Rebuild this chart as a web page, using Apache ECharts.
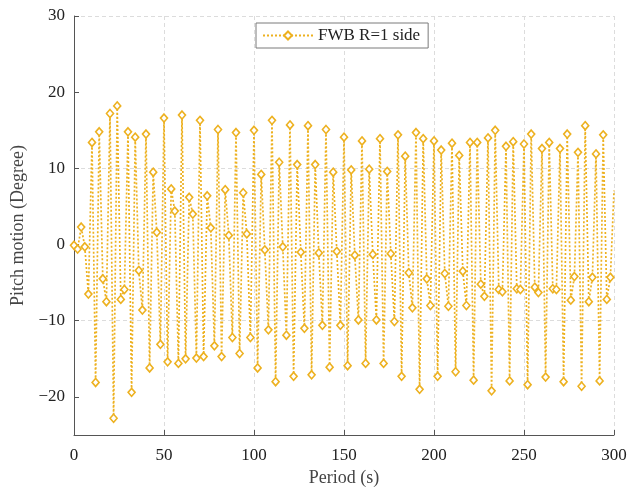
<!DOCTYPE html>
<html>
<head>
<meta charset="utf-8">
<script src="https://cdn.jsdelivr.net/npm/echarts@6/dist/echarts.min.js"></script>
<style>html,body{margin:0;padding:0;background:#fff;}#c{width:644px;height:488px;}</style>
</head>
<body>
<div id="c"></div>
<script>
var seriesName = 'FWB R=1 side';
var periods = [0,2,4,6,8,10,12,14,16,18,20,22,24,26,28,30,32,34,36,38,40,42,44,46,48,50,52,54,56,58,60,62,64,66,68,70,72,74,76,78,80,82,84,86,88,90,92,94,96,98,100,102,104,106,108,110,112,114,116,118,120,122,124,126,128,130,132,134,136,138,140,142,144,146,148,150,152,154,156,158,160,162,164,166,168,170,172,174,176,178,180,182,184,186,188,190,192,194,196,198,200,202,204,206,208,210,212,214,216,218,220,222,224,226,228,230,232,234,236,238,240,242,244,246,248,250,252,254,256,258,260,262,264,266,268,270,272,274,276,278,280,282,284,286,288,290,292,294,296,298,300];
var pitch = [-0.1,-0.6,2.3,-0.3,-6.5,13.4,-18.1,14.8,-4.5,-7.5,
17.2,-22.8,18.2,-7.2,-5.9,14.8,-19.4,14.1,-3.4,-8.6,
14.5,-16.2,9.5,1.6,-13.1,16.6,-15.4,7.3,4.4,-15.6,
17.0,-15.0,6.2,4.0,-14.9,16.3,-14.7,6.4,2.2,-13.3,
15.1,-14.7,7.2,1.2,-12.2,14.7,-14.3,6.8,1.4,-12.2,
15.0,-16.2,9.2,-0.7,-11.2,16.3,-18.0,10.8,-0.3,-11.9,
15.7,-17.3,10.5,-1.0,-11.0,15.6,-17.1,10.5,-1.1,-10.6,
15.1,-16.1,9.5,-0.9,-10.6,14.1,-15.9,9.8,-1.4,-9.9,
13.6,-15.6,9.9,-1.3,-9.9,13.9,-15.6,9.6,-1.2,-10.1,
14.4,-17.3,11.6,-3.7,-8.3,14.7,-19.0,13.9,-4.5,-8.0,
13.6,-17.3,12.4,-3.8,-8.1,13.3,-16.7,11.7,-3.5,-8.0,
13.4,-17.8,13.4,-5.2,-6.8,14.0,-19.2,15.0,-5.9,-6.2,
12.9,-17.9,13.5,-5.8,-5.9,13.2,-18.4,14.5,-5.6,-6.3,
12.6,-17.4,13.4,-5.8,-5.9,12.6,-18.0,14.5,-7.3,-4.2,
12.1,-18.6,15.6,-7.5,-4.3,11.9,-17.9,14.4,-7.2,-4.3,
7.1];
var xTicks = [0,50,100,150,200,250,300];
var yTicks = [-20,-10,0,10,20,30];

var data = periods.map(function(t,i){
  var d = {value:[t,pitch[i]]};
  if (i === periods.length-1) d.symbol = 'none';
  return d;
});
var FONT = '"Liberation Serif","DejaVu Serif",serif';
var chart = echarts.init(document.getElementById('c'), null, {renderer:'canvas'});
chart.setOption({
  animation:false,
  backgroundColor:'#fff',
  grid:{left:74, top:16, right:30, bottom:53, containLabel:false, outerBoundsMode:'none'},
  legend:{
    left:256, top:23, orient:'horizontal',
    data:[seriesName],
    backgroundColor:'#fff',
    borderColor:'#7a7a7a', borderWidth:1, borderRadius:0,
    padding:[4,8,4,6],
    itemWidth:50, itemHeight:10,
    textStyle:{fontFamily:FONT, fontSize:17, color:'#222'}
  },
  xAxis:{
    type:'value', min:0, max:300, interval:50,
    name:'Period (s)', nameLocation:'middle', nameGap:33,
    nameTextStyle:{fontFamily:FONT, fontSize:18, color:'#444'},
    axisLine:{show:true, onZero:false, lineStyle:{color:'#555', width:1}},
    axisTick:{show:true, inside:true, length:5, lineStyle:{color:'#555'}},
    axisLabel:{fontFamily:FONT, fontSize:17, color:'#222', margin:12,
      formatter:function(v){return xTicks.indexOf(v)>=0 ? String(v) : '';}},
    splitLine:{show:true, lineStyle:{color:'#dcdcdc', type:[4,3], width:1}}
  },
  yAxis:{
    type:'value', min:-25, max:30, interval:5,
    name:'Pitch motion (Degree)', nameLocation:'middle', nameGap:39,
    nameTextStyle:{fontFamily:FONT, fontSize:18, color:'#444'},
    axisLine:{show:true, onZero:false, lineStyle:{color:'#555', width:1}},
    axisTick:{show:true, inside:true, length:5, lineStyle:{color:'#555'}, customValues:yTicks},
    axisLabel:{fontFamily:FONT, fontSize:17, color:'#222', margin:9, customValues:yTicks,
      formatter:function(v){return yTicks.indexOf(v)>=0 ? (v<0 ? '\u2212'+Math.abs(v) : String(v)) : '';}},
    splitLine:{show:true, lineStyle:{color:['transparent','#dcdcdc'], type:[4,3], width:1}}
  },
  series:[{
    name:seriesName, type:'line', data:data,
    symbol:'diamond', symbolSize:[7,8], showAllSymbol:true,
    lineStyle:{color:'#EDB120', width:1.7, type:[2,2]},
    itemStyle:{color:'#fff', borderColor:'#EDB120', borderWidth:1.6},
    clip:true
  }]
});
</script>
</body>
</html>
